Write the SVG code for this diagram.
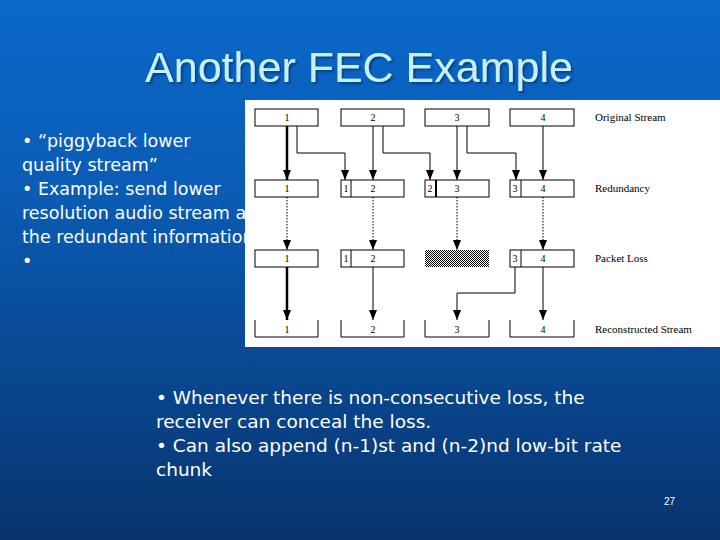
<svg xmlns="http://www.w3.org/2000/svg" width="720" height="540" viewBox="0 0 720 540">
<defs>
<linearGradient id="bg" x1="0" y1="0" x2="0" y2="1">
<stop offset="0" stop-color="#0b68c9"/><stop offset="0.35" stop-color="#0a5cb5"/><stop offset="1" stop-color="#08346e"/>
</linearGradient>
<filter id="sh" x="-5%" y="-20%" width="110%" height="140%"><feDropShadow dx="2" dy="2" stdDeviation="0.8" flood-color="#05306a" flood-opacity="0.7"/></filter>
<marker id="ah" viewBox="0 0 10 8" refX="10" refY="4" markerWidth="10" markerHeight="8" markerUnits="userSpaceOnUse" orient="auto"><path d="M0,0 L10,4 L0,8 Z" fill="#000"/></marker>
<pattern id="hatch" width="2" height="2" patternUnits="userSpaceOnUse"><rect width="2" height="2" fill="#fff"/><rect width="1" height="1" fill="#000"/><rect x="1" y="1" width="1" height="1" fill="#000"/></pattern>
</defs>
<style>
.t{font-family:"DejaVu Sans",sans-serif;font-size:17.5px;fill:#fff}
.b{fill:#fff;stroke:#000;stroke-width:1}
.n{font-family:"Liberation Serif",serif;font-size:10px;fill:#000;text-anchor:middle}
.l{font-family:"Liberation Serif",serif;font-size:11px;fill:#000}
.c{fill:none;stroke:#000;stroke-width:1}
</style>
<rect width="720" height="540" fill="url(#bg)"/>
<text x="359" y="82" font-family="Liberation Sans,sans-serif" font-size="43" fill="#c8f0ff" text-anchor="middle" filter="url(#sh)">Another FEC Example</text>
<g id="lefttext" class="t">
<text x="22" y="147">• “piggyback lower</text>
<text x="22" y="171">quality stream”</text>
<text x="22" y="195">• Example: send lower</text>
<text x="22" y="219">resolution audio stream as</text>
<text x="22" y="243">the redundant information</text>
<text x="22" y="267">•</text>
</g>
<rect x="245" y="100" width="475" height="247" fill="#fff"/>
<g id="row1">
<rect class="b" x="255" y="109" width="63" height="17"/><text class="n" x="287" y="121">1</text>
<rect class="b" x="341" y="109" width="63" height="17"/><text class="n" x="373" y="121">2</text>
<rect class="b" x="425" y="109" width="64" height="17"/><text class="n" x="457" y="121">3</text>
<rect class="b" x="510" y="109" width="64" height="17"/><text class="n" x="543" y="121">4</text>
<text class="l" x="595" y="121">Original Stream</text>
</g>
<g id="row2">
<rect class="b" x="255" y="180" width="63" height="17"/><text class="n" x="287" y="192">1</text>
<rect class="b" x="341" y="180" width="63" height="17"/><line class="c" x1="351" y1="180" x2="351" y2="197"/><text class="n" x="346" y="192">1</text><text class="n" x="373" y="192">2</text>
<rect class="b" x="425" y="180" width="64" height="17"/><line x1="436" y1="180" x2="436" y2="197" stroke="#000" stroke-width="2"/><text class="n" x="430" y="192">2</text><text class="n" x="457" y="192">3</text>
<rect class="b" x="510" y="180" width="64" height="17"/><line class="c" x1="521" y1="180" x2="521" y2="197"/><text class="n" x="515" y="192">3</text><text class="n" x="543" y="192">4</text>
<text class="l" x="595" y="192">Redundancy</text>
</g>
<g id="row3">
<rect class="b" x="255" y="250" width="63" height="17"/><text class="n" x="287" y="262">1</text>
<rect class="b" x="341" y="250" width="63" height="17"/><line class="c" x1="351" y1="250" x2="351" y2="267"/><text class="n" x="346" y="262">1</text><text class="n" x="373" y="262">2</text>
<rect x="425" y="250" width="64" height="17" fill="url(#hatch)"/>
<rect class="b" x="510" y="250" width="64" height="17"/><line class="c" x1="521" y1="250" x2="521" y2="267"/><text class="n" x="515" y="262">3</text><text class="n" x="543" y="262">4</text>
<text class="l" x="595" y="262">Packet Loss</text>
</g>
<g id="row4">
<path class="c" d="M255,320 V337 H318 V320"/><text class="n" x="287" y="333">1</text>
<path class="c" d="M341,320 V337 H404 V320"/><text class="n" x="373" y="333">2</text>
<path class="c" d="M425,320 V337 H489 V320"/><text class="n" x="457" y="333">3</text>
<path class="c" d="M510,320 V337 H574 V320"/><text class="n" x="543" y="333">4</text>
<text class="l" x="595" y="333">Reconstructed Stream</text>
</g>
<g id="connectors" marker-end="url(#ah)">
<line x1="287" y1="126" x2="287" y2="180" stroke="#000" stroke-width="2.5"/>
<line class="c" x1="373" y1="126" x2="373" y2="180"/>
<line class="c" x1="457" y1="126" x2="457" y2="180"/>
<line class="c" x1="543" y1="126" x2="543" y2="180"/>
<path class="c" d="M297,126 V153 H345 V180"/>
<path class="c" d="M383,126 V153 H430 V180"/>
<path class="c" d="M467,126 V153 H516 V180"/>
<line class="c" stroke-dasharray="1.5,1.5" x1="287" y1="197" x2="287" y2="250"/>
<line class="c" stroke-dasharray="1.5,1.5" x1="373" y1="197" x2="373" y2="250"/>
<line class="c" stroke-dasharray="1.5,1.5" x1="457" y1="197" x2="457" y2="250"/>
<line class="c" stroke-dasharray="1.5,1.5" x1="543" y1="197" x2="543" y2="250"/>
<line x1="287" y1="267" x2="287" y2="320" stroke="#000" stroke-width="2.5"/>
<line class="c" x1="373" y1="267" x2="373" y2="320"/>
<line class="c" x1="543" y1="267" x2="543" y2="320"/>
<path class="c" d="M515,267 V293 H457 V320"/>
</g>
<g id="bottomtext" class="t" font-size="18">
<text x="156" y="404" style="font-size:18.5px">• Whenever there is non-consecutive loss, the</text>
<text x="156" y="428" style="font-size:18.5px">receiver can conceal the loss.</text>
<text x="156" y="452" style="font-size:18.5px">• Can also append (n-1)st and (n-2)nd low-bit rate</text>
<text x="156" y="476" style="font-size:18.5px">chunk</text>
</g>
<text x="664" y="505" font-family="Liberation Sans,sans-serif" font-size="10" fill="#fff">27</text>
</svg>
